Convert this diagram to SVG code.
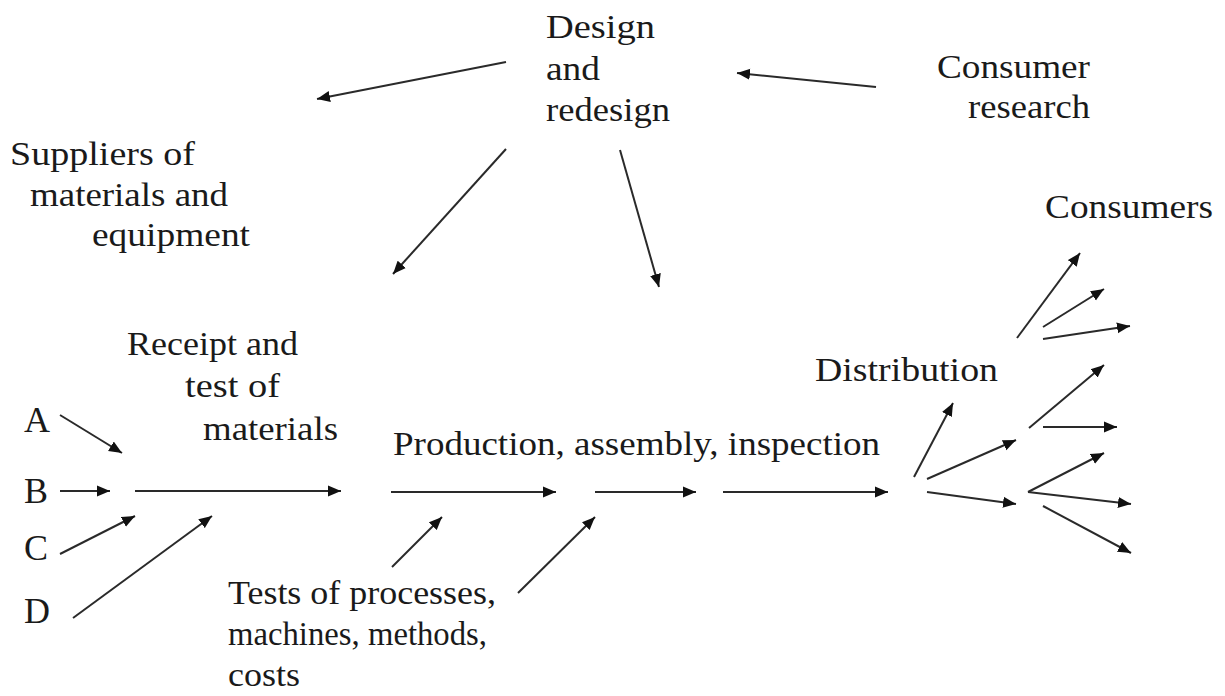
<svg xmlns="http://www.w3.org/2000/svg" width="1225" height="696" viewBox="0 0 1225 696">
<style>
text{font-family:"Liberation Serif","Times New Roman",serif;font-size:34px;fill:#1a1a1a}
text.L{font-size:36px}
.c line{stroke:#2a2a2a;stroke-width:2;marker-end:url(#ah)}
</style>
<defs>
<marker id="ah" markerUnits="userSpaceOnUse" markerWidth="14" markerHeight="12" refX="13" refY="5.5" orient="auto" viewBox="0 0 14 11">
<path d="M0,0 L13,5.5 L0,11 Z" fill="#111"/>
</marker>
</defs>
<rect width="1225" height="696" fill="#fff"/>
<g id="design"><text x="546" y="38" textLength="109" lengthAdjust="spacingAndGlyphs">Design</text><text x="546" y="80" textLength="54" lengthAdjust="spacingAndGlyphs">and</text><text x="546" y="121" textLength="124" lengthAdjust="spacingAndGlyphs">redesign</text></g>
<g id="consumer-research"><text x="937" y="78" textLength="153" lengthAdjust="spacingAndGlyphs">Consumer</text><text x="968" y="118" textLength="122" lengthAdjust="spacingAndGlyphs">research</text></g>
<g id="suppliers"><text x="10" y="165" textLength="185" lengthAdjust="spacingAndGlyphs">Suppliers of</text><text x="30" y="206" textLength="198" lengthAdjust="spacingAndGlyphs">materials and</text><text x="92" y="246" textLength="158" lengthAdjust="spacingAndGlyphs">equipment</text></g>
<g id="consumers"><text x="1045" y="218" textLength="168" lengthAdjust="spacingAndGlyphs">Consumers</text></g>
<g id="receipt"><text x="127" y="355" textLength="171" lengthAdjust="spacingAndGlyphs">Receipt and</text><text x="185" y="397" textLength="95" lengthAdjust="spacingAndGlyphs">test of</text><text x="203" y="440" textLength="135" lengthAdjust="spacingAndGlyphs">materials</text></g>
<g id="A"><text class="L" x="24" y="432">A</text></g>
<g id="B"><text class="L" x="24" y="503">B</text></g>
<g id="C"><text class="L" x="24" y="560">C</text></g>
<g id="D"><text class="L" x="24" y="623">D</text></g>
<g id="production"><text x="393" y="455" textLength="487" lengthAdjust="spacingAndGlyphs">Production, assembly, inspection</text></g>
<g id="distribution"><text x="815" y="381" textLength="183" lengthAdjust="spacingAndGlyphs">Distribution</text></g>
<g id="tests"><text x="228" y="604" textLength="268" lengthAdjust="spacingAndGlyphs">Tests of processes,</text><text x="228" y="645" textLength="259" lengthAdjust="spacingAndGlyphs">machines, methods,</text><text x="228" y="686" textLength="72" lengthAdjust="spacingAndGlyphs">costs</text></g>
<g id="connectors" class="c">
<line x1="506" y1="62" x2="317" y2="99"/>
<line x1="876" y1="87" x2="737" y2="73"/>
<line x1="506" y1="149" x2="393" y2="274"/>
<line x1="620" y1="150" x2="659" y2="287"/>
<line x1="60" y1="415" x2="122" y2="453"/>
<line x1="60" y1="491" x2="110" y2="491"/>
<line x1="60" y1="554" x2="135" y2="516"/>
<line x1="73" y1="618" x2="212" y2="516"/>
<line x1="135" y1="491" x2="341" y2="491"/>
<line x1="391" y1="492" x2="556" y2="492"/>
<line x1="595" y1="492" x2="696" y2="492"/>
<line x1="723" y1="492" x2="888" y2="492"/>
<line x1="392" y1="567" x2="442" y2="517"/>
<line x1="518" y1="593" x2="595" y2="517"/>
<line x1="914" y1="477" x2="953" y2="403"/>
<line x1="927" y1="479" x2="1016" y2="440"/>
<line x1="927" y1="492" x2="1016" y2="504"/>
<line x1="1029" y1="428" x2="1104" y2="365"/>
<line x1="1043" y1="427" x2="1117" y2="427"/>
<line x1="1028" y1="492" x2="1104" y2="453"/>
<line x1="1028" y1="492" x2="1131" y2="504"/>
<line x1="1043" y1="506" x2="1131" y2="553"/>
<line x1="1017" y1="338" x2="1080" y2="253"/>
<line x1="1043" y1="327" x2="1104" y2="289"/>
<line x1="1043" y1="339" x2="1130" y2="326"/>
</g>
</svg>
